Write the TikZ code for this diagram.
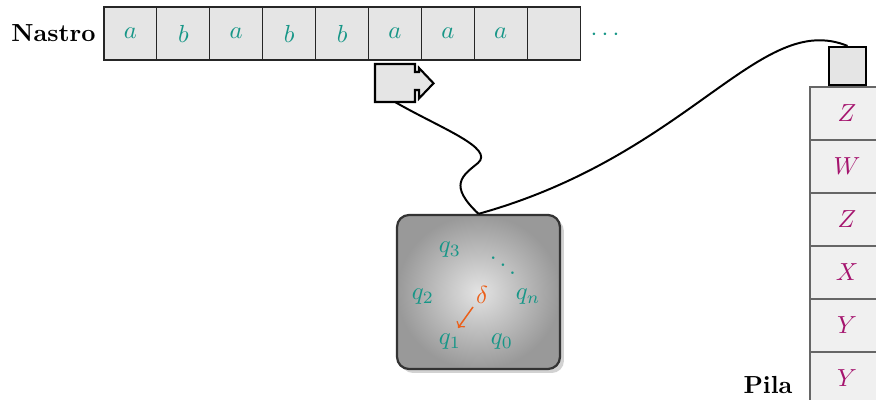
\documentclass[tikz,border=0pt]{standalone}
\usetikzlibrary{shadows}
\definecolor{tealc}{RGB}{22,150,135}
\definecolor{magc}{RGB}{165,20,110}
\definecolor{orc}{RGB}{235,95,25}
\definecolor{tapefill}{RGB}{229,229,229}
\definecolor{stackfill}{RGB}{240,240,240}
\tikzset{
  tapecell/.style={draw=black!85, line width=0.45pt, fill=tapefill, minimum width=21.4pt, minimum height=21.5pt, inner sep=0pt, outer sep=0pt, text=tealc},
  stackcell/.style={draw=black!60, line width=0.5pt, fill=stackfill, minimum width=30pt, minimum height=21.5pt, inner sep=0pt, outer sep=0pt, text=magc},
  headbox/.style={draw=black, line width=0.85pt, fill=tapefill},
  wire/.style={draw=black, line width=0.8pt},
  qlab/.style={text=tealc, inner sep=0pt},
  ctrlbox/.style={draw=black!80, line width=0.9pt, rounded corners=4.9pt, minimum width=66pt, minimum height=62.4pt, inner color=gray!22, outer color=gray!80, drop shadow={shadow xshift=1.6pt, shadow yshift=-1.6pt, fill=gray!35, opacity=1}}
}
\begin{document}
\begin{tikzpicture}[x=0.405pt, y=-0.405pt]
\useasboundingbox (0,0) rectangle (876,400);
% tape
\foreach \i/\c in {0/a,1/b,2/a,3/b,4/b,5/a,6/a,7/a} {
  \node[tapecell] (t\i) at ({104+52.9*(\i+0.5)},33.5) {$\c$};
}
\node[tapecell] (t8) at ({104+52.9*8.5},33.5) {};
\node[text=tealc, anchor=center] (tdots) at (605,35) {$\cdots$};
\node[anchor=east, font=\bfseries, inner sep=0pt] (nastro) at (96,33.5) {Nastro};
% tape head
\draw[headbox] (375,64) -- (415,64) -- (415,72) -- (419,72) -- (419,68) -- (433.5,83.3) -- (419,98.5) -- (419,90) -- (415,90) -- (415,102) -- (375,102) -- cycle;
\coordinate (hbot) at (395,102);
% control
\node[ctrlbox] (ctrl) at (478.5,292) {};
\node[qlab] (q3) at (450,250) {$q_3$};
\node[text=tealc, inner sep=0pt] (qd) at (503,258) {$\ddots$};
\node[qlab] (q2) at (423,297) {$q_2$};
\node[text=orc, inner sep=0pt] (delta) at (482,295) {$\delta$};
\node[qlab] (qn) at (528,297) {$q_n$};
\node[qlab] (q1) at (450,342) {$q_1$};
\node[qlab] (q0) at (502,342) {$q_0$};
\coordinate (da) at (473,307);
\coordinate (db) at (458,328);
\draw[orc, line width=0.6pt, ->] (da) -- (db);
% stack
\foreach \k/\c in {0/Z,1/W,2/Z,3/X,4/Y,5/Y} {
  \node[stackcell] (s\k) at (847,{113.5+53*\k}) {$\c$};
}
\node[headbox, minimum width=15pt, minimum height=15.4pt, inner sep=0pt] (sh) at (847.5,66) {};
\node[font=\bfseries, inner sep=0pt] (pila) at (768,385) {Pila};
% wires
\draw[wire] (hbot) .. controls (440,128) and (495,148) .. (478,163) .. controls (462,176) and (448,185) .. (ctrl.north);
\draw[wire] (ctrl.north) .. controls (690,155) and (760,10) .. (sh.north);
\end{tikzpicture}
\end{document}
